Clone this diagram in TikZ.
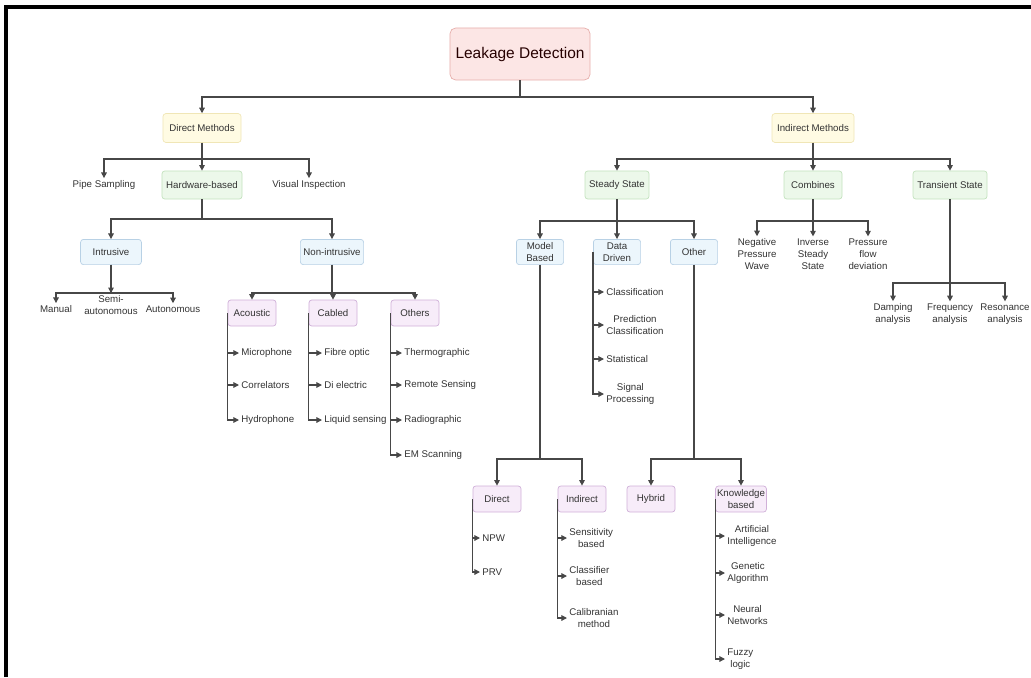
\documentclass[tikz,border=0pt]{standalone}
\usepackage{fontspec}
\setmainfont{Liberation Sans}
\usepackage{xcolor}
\usepackage{tikz}
\usetikzlibrary{arrows.meta}

\definecolor{rootfill}{HTML}{FCE6E5}
\definecolor{rootline}{HTML}{E6AEAB}
\definecolor{yfill}{HTML}{FFFBE3}
\definecolor{yline}{HTML}{F0E6B6}
\definecolor{gfill}{HTML}{ECF8EA}
\definecolor{gline}{HTML}{C3E2BE}
\definecolor{bfill}{HTML}{ECF6FC}
\definecolor{bline}{HTML}{B8D1E5}
\definecolor{pfill}{HTML}{F7ECF9}
\definecolor{pline}{HTML}{D0B0D8}

\begin{document}
\begin{tikzpicture}[x=0.025cm,y=-0.025cm,
	font=\fontsize{6.9}{8.4}\selectfont, text=black!80,
	conn/.style={draw=black!72, line width=0.8pt, -{Triangle[length=4pt,width=4pt]}},
	box/.style={draw, rounded corners=2pt, align=center, inner sep=1pt, line width=0.5pt},
	ybox/.style={box, fill=yfill, draw=yline, minimum height=0.72cm},
	gbox/.style={box, fill=gfill, draw=gline, minimum height=0.7cm},
	bbox/.style={box, fill=bfill, draw=bline, minimum height=0.63cm},
	pbox/.style={box, fill=pfill, draw=pline, minimum width=1.2cm, minimum height=0.65cm},
	leaf/.style={align=center, inner sep=1.5pt}]
			\useasboundingbox (0,0) rectangle (1031,677);
			\draw[line width=2.2pt] (6,677) -- (6,7) -- (1031,7);

			\node[box, fill=rootfill, draw=rootline, rounded corners=4pt, minimum width=3.5cm, minimum height=1.3cm, font=\fontsize{11}{13}\selectfont, text=black!75!red!60!black] (root) at (520,54) {Leakage Detection};

			\node[ybox, minimum width=1.95cm] (dm) at (202,128) {Direct Methods};
			\node[ybox, minimum width=2.05cm] (im) at (813,128) {Indirect Methods};
			\coordinate (b0) at (520,97);
			\foreach \c in {dm,im} \draw[conn] (root.south) -- (b0) -| (\c.north);

			\node[leaf] (ps) at (104,185) {Pipe Sampling};
			\node[gbox, minimum width=2cm] (hb) at (202,185) {Hardware-based};
			\node[leaf] (vi) at (309,185) {Visual Inspection};
			\coordinate (b1) at (202,159);
			\foreach \c in {ps,hb,vi} \draw[conn] (dm.south) -- (b1) -| (\c.north);

			\node[gbox, minimum width=1.6cm] (ss) at (617,185) {Steady State};
			\node[gbox, minimum width=1.45cm] (cb) at (813,185) {Combines};
			\node[gbox, minimum width=1.85cm] (ts) at (950,185) {Transient State};
			\coordinate (b2) at (813,159);
			\foreach \c in {ss,cb,ts} \draw[conn] (im.south) -- (b2) -| (\c.north);

			\node[bbox, minimum width=1.52cm] (intr) at (111,252) {Intrusive};
			\node[bbox, minimum width=1.58cm] (nint) at (332,252) {Non-intrusive};
			\coordinate (b3) at (202,219);
			\foreach \c in {intr,nint} \draw[conn] (hb.south) -- (b3) -| (\c.north);

			\node[leaf] (man) at (56,309) {Manual};
			\node[leaf] (semi) at (111,305) {Semi-\\autonomous};
			\node[leaf] (auto) at (173,309) {Autonomous};
			\coordinate (b4) at (111,293);
			\foreach \c in {man,semi,auto} \draw[conn] (intr.south) -- (b4) -| (\c.north);

			\node[pbox] (ac) at (252,313) {Acoustic};
			\node[pbox] (cab) at (333,313) {Cabled};
			\node[pbox] (oth) at (415,313) {Others};
			\coordinate (b5) at (332,293);
			\foreach \c in {ac,cab,oth} \draw[conn] (nint.south) -- (b5) -| (\c.north);

			\foreach \n/\t/\y in {mic/Microphone/353, cor/Correlators/385, hyd/Hydrophone/420} {
				\node[leaf, anchor=west] (\n) at (239,\y) {\t};
				\draw[conn] (ac.west) |- (\n);
			}
			\foreach \n/\t/\y in {fib/Fibre optic/353, die/Di electric/385, liq/Liquid sensing/420} {
				\node[leaf, anchor=west] (\n) at (322,\y) {\t};
				\draw[conn] (cab.west) |- (\n);
			}
			\foreach \n/\t/\y in {the/Thermographic/353, rem/Remote Sensing/385, rad/Radiographic/420, ems/EM Scanning/455} {
				\node[leaf, anchor=west] (\n) at (402,\y) {\t};
				\draw[conn] (oth.west) |- (\n);
			}

			\node[bbox, minimum width=1.18cm] (mb) at (540,252) {Model\\Based};
			\node[bbox, minimum width=1.18cm] (dd) at (617,252) {Data\\Driven};
			\node[bbox, minimum width=1.18cm] (ot) at (694,252) {Other};
			\coordinate (b6) at (617,221);
			\foreach \c in {mb,dd,ot} \draw[conn] (ss.south) -- (b6) -| (\c.north);

			\foreach \n/\t/\y in {cla/Classification/292, pcl/Prediction\\Classification/325, sta/Statistical/359, sig/Signal\\Processing/394} {
				\node[leaf, anchor=west] (\n) at (604,\y) {\t};
				\draw[conn] (dd.west) |- (\n);
			}

			\node[leaf] (npw) at (757,254) {Negative\\Pressure\\Wave};
			\node[leaf] (iss) at (813,254) {Inverse\\Steady\\State};
			\node[leaf] (pfd) at (868,254) {Pressure\\flow\\deviation};
			\coordinate (b7) at (813,221);
			\foreach \c in {npw,iss,pfd} \draw[conn] (cb.south) -- (b7) -| (\c.north);

			\node[leaf] (dmp) at (893,314) {Damping\\analysis};
			\node[leaf] (frq) at (950,314) {Frequency\\analysis};
			\node[leaf] (res) at (1005,314) {Resonance\\analysis};
			\coordinate (b8) at (950,283);
			\foreach \c in {dmp,frq,res} \draw[conn] (ts.south) -- (b8) -| (\c.north);

			\node[pbox] (dir) at (497,499) {Direct};
			\node[pbox] (ind) at (582,499) {Indirect};
			\coordinate (b9) at (540,459);
			\foreach \c in {dir,ind} \draw[conn] (mb.south) -- (b9) -| (\c.north);

			\node[pbox] (hyb) at (651,499) {Hybrid};
			\node[pbox, minimum width=1.25cm] (kb) at (741,499) {Knowledge\\based};
			\coordinate (b10) at (694,459);
			\foreach \c in {hyb,kb} \draw[conn] (ot.south) -- (b10) -| (\c.north);

			\foreach \n/\t/\y in {npwl/NPW/538, prv/PRV/572} {
				\node[leaf, anchor=west] (\n) at (480,\y) {\t};
				\draw[conn] (dir.west) |- (\n);
			}
			\foreach \n/\t/\y in {sen/Sensitivity\\based/538, csf/Classifier\\based/576, cal/Calibranian\\method/618} {
				\node[leaf, anchor=west] (\n) at (567,\y) {\t};
				\draw[conn] (ind.west) |- (\n);
			}
			\foreach \n/\t/\y in {ai/Artificial\\Intelligence/536, ga/Genetic\\Algorithm/573, nn/Neural\\Networks/615, fl/Fuzzy\\logic/659} {
				\node[leaf, anchor=west] (\n) at (725,\y) {\t};
				\draw[conn] (kb.west) |- (\n);
			}
		\end{tikzpicture}
\end{document}
